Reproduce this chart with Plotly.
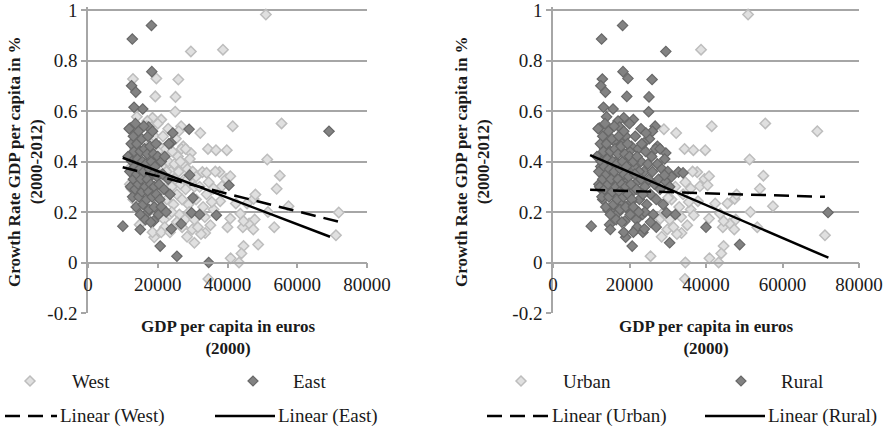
import plotly.graph_objects as go

# ---------------- data (x = GDP per capita 2000 in euros, y = growth rate) ----------------
east_rural = [(12700, 0.885), (18200, 0.939), (18300, 0.756), (12500, 0.70), (13700, 0.675), (13200, 0.615),
              (15700, 0.608), (12100, 0.533), (17400, 0.537), (24300, 0.513), (23800, 0.474), (20700, 0.065),
              (10000, 0.144), (15000, 0.131), (29700, 0.197), (32000, 0.19), (29150, 0.346), (18800, 0.164),
              (17000, 0.197), (23900, 0.133),
              (11500, 0.42), (11800, 0.53), (12000, 0.36), (12200, 0.30), (12400, 0.47), (12600, 0.40),
              (12800, 0.26), (13000, 0.33), (13000, 0.50), (13200, 0.44), (13400, 0.38), (13500, 0.29),
              (13600, 0.55), (13800, 0.22), (14000, 0.35), (14000, 0.47), (14200, 0.41), (14400, 0.31),
              (14500, 0.52), (14600, 0.26), (14800, 0.37), (15000, 0.44), (15000, 0.19), (15200, 0.33),
              (15400, 0.49), (15500, 0.28), (15600, 0.40), (15800, 0.23), (16000, 0.36), (16000, 0.54),
              (16200, 0.45), (16400, 0.30), (16500, 0.17), (16600, 0.39), (16800, 0.25), (17000, 0.43),
              (17000, 0.33), (17200, 0.50), (17400, 0.28), (17500, 0.21), (17600, 0.37), (17800, 0.46),
              (18000, 0.31), (18000, 0.16), (18200, 0.40), (18400, 0.26), (18500, 0.52), (18600, 0.35),
              (18800, 0.43), (19000, 0.22), (19000, 0.30), (19200, 0.38), (19500, 0.47), (19600, 0.27),
              (19800, 0.34), (20000, 0.42), (20200, 0.19), (20400, 0.31), (20600, 0.25), (21000, 0.40),
              (21000, 0.22), (21400, 0.35), (21800, 0.29), (22000, 0.42), (22400, 0.20), (23000, 0.33),
              (23200, 0.47), (23500, 0.27)]

east_urban = [(29000, 0.528), (69100, 0.52), (34600, 0.0), (25500, 0.025), (36800, 0.187), (40400, 0.306),
              (30100, 0.256), (26700, 0.153)]

west_rural = [(19600, 0.729), (12900, 0.727), (25900, 0.725), (29500, 0.836), (19300, 0.658), (25100, 0.656),
              (25000, 0.597), (26700, 0.54), (71900, 0.198), (48800, 0.071), (19000, 0.10), (40000, 0.14),
              (30500, 0.078), (32800, 0.358), (34000, 0.355), (21700, 0.131), (14400, 0.207), (12500, 0.292),
              (18500, 0.573), (21000, 0.566), (14000, 0.577), (27300, 0.46), (29500, 0.434),
              (14500, 0.43), (15500, 0.36), (16000, 0.48), (16500, 0.31), (17000, 0.56), (17500, 0.44),
              (18000, 0.38), (18500, 0.28), (19000, 0.50), (19500, 0.41), (20000, 0.35), (20000, 0.55),
              (20500, 0.46), (20800, 0.28), (21200, 0.38), (21500, 0.50), (21800, 0.17), (22000, 0.32),
              (22300, 0.45), (22600, 0.25), (23000, 0.40), (23000, 0.53), (23400, 0.19), (23800, 0.36),
              (24000, 0.30), (24200, 0.44), (24500, 0.23), (24800, 0.39), (25000, 0.33), (25200, 0.49),
              (25500, 0.27), (25800, 0.42), (26000, 0.36), (26200, 0.19), (26500, 0.31), (26800, 0.45),
              (27000, 0.25), (27300, 0.39), (27600, 0.33), (28000, 0.29), (28000, 0.45), (28500, 0.37),
              (28800, 0.23), (29200, 0.41), (29500, 0.32), (30000, 0.36), (30500, 0.30), (31000, 0.34),
              (24000, 0.20), (22000, 0.14), (18500, 0.12), (16000, 0.20), (14800, 0.15), (19800, 0.21),
              (21000, 0.12), (23500, 0.12), (25500, 0.16), (27000, 0.14), (12000, 0.31), (13000, 0.25),
              (15000, 0.27), (17500, 0.24), (19000, 0.33), (20500, 0.24), (12500, 0.38), (13500, 0.45),
              (16500, 0.40), (18000, 0.47), (20000, 0.44), (22500, 0.36), (26000, 0.52)]

west_urban = [(38700, 0.843), (51000, 0.982), (41500, 0.54), (55500, 0.551), (32200, 0.513), (34400, 0.45),
              (36700, 0.445), (39800, 0.445), (51400, 0.408), (55000, 0.344), (54100, 0.292), (57500, 0.223),
              (71100, 0.108), (53400, 0.14), (44600, 0.065), (44000, 0.036), (43300, 0.0), (40900, 0.017),
              (34500, -0.065), (37700, 0.358), (39600, 0.331), (40800, 0.342), (34600, 0.318), (37900, 0.243),
              (40800, 0.174), (43700, 0.193), (44400, 0.14), (46200, 0.154), (47400, 0.131), (47800, 0.17),
              (47500, 0.252), (48000, 0.269), (33600, 0.117), (32400, 0.113), (28400, 0.102), (29900, 0.131),
              (36000, 0.293), (38400, 0.302), (36000, 0.21), (42400, 0.234), (45600, 0.234), (51600, 0.2),
              (44600, 0.164), (35100, 0.148), (16900, 0.54), (28500, 0.33), (31000, 0.25), (32000, 0.30),
              (27800, 0.17), (30500, 0.17), (31500, 0.14), (33000, 0.22), (34000, 0.27), (35500, 0.24),
              (36500, 0.36), (33500, 0.18), (29000, 0.20), (26500, 0.40)]

# linear trend lines (endpoints)
trend_west_x, trend_west_y = [9950, 72000], [0.377, 0.161]
trend_east_x, trend_east_y = [9950, 69400], [0.415, 0.102]
trend_urban_x, trend_urban_y = [9700, 71100], [0.288, 0.260]
trend_rural_x, trend_rural_y = [9700, 72000], [0.425, 0.019]

y_ticks = [-0.2, 0, 0.2, 0.4, 0.6, 0.8, 1]
y_tick_text = ["-0.2", "0", "0.2", "0.4", "0.6", "0.8", "1"]
x_ticks = [0, 20000, 40000, 60000, 80000]
x_tick_text = ["0", "20000", "40000", "60000", "80000"]


def xs(pts):
    return [p[0] for p in pts]


def ys(pts):
    return [p[1] for p in pts]


# ---------------- styling ----------------
W, H = 890, 432
FONT = "Liberation Serif"
GRID = "#a6a6a6"
TXT = "#1a1a1a"
DASH = "15px,8px"
LW = 2.5
LIGHT = dict(symbol="diamond", size=8, color="#e0e0e0", line=dict(color="#bdbdbd", width=1.5))
DARK = dict(symbol="diamond", size=8, color="#828282", line=dict(color="#686868", width=1.2))

fig = go.Figure()

# left panel: West / East
west = west_rural + west_urban
east = east_rural + east_urban
fig.add_trace(go.Scatter(x=xs(west), y=ys(west), mode="markers", marker=LIGHT, name="West",
                         xaxis="x", yaxis="y", showlegend=False))
fig.add_trace(go.Scatter(x=xs(east), y=ys(east), mode="markers", marker=DARK, name="East",
                         xaxis="x", yaxis="y", showlegend=False))
fig.add_trace(go.Scatter(x=trend_west_x, y=trend_west_y, mode="lines", name="Linear (West)",
                         line=dict(color="black", width=LW, dash=DASH), xaxis="x", yaxis="y",
                         showlegend=False))
fig.add_trace(go.Scatter(x=trend_east_x, y=trend_east_y, mode="lines", name="Linear (East)",
                         line=dict(color="black", width=LW), xaxis="x", yaxis="y", showlegend=False))

# right panel: Urban / Rural
urban = west_urban + east_urban
rural = west_rural + east_rural
fig.add_trace(go.Scatter(x=xs(urban), y=ys(urban), mode="markers", marker=LIGHT, name="Urban",
                         xaxis="x2", yaxis="y2", showlegend=False))
fig.add_trace(go.Scatter(x=xs(rural), y=ys(rural), mode="markers", marker=DARK, name="Rural",
                         xaxis="x2", yaxis="y2", showlegend=False))
fig.add_trace(go.Scatter(x=trend_urban_x, y=trend_urban_y, mode="lines", name="Linear (Urban)",
                         line=dict(color="black", width=LW, dash=DASH), xaxis="x2", yaxis="y2",
                         showlegend=False))
fig.add_trace(go.Scatter(x=trend_rural_x, y=trend_rural_y, mode="lines", name="Linear (Rural)",
                         line=dict(color="black", width=LW), xaxis="x2", yaxis="y2", showlegend=False))

Y_RANGE = [-0.2, 1.012]
ydom = [(H - 313) / H, (H - 7) / H]
y0_pos = ydom[0] + (ydom[1] - ydom[0]) * ((0 - Y_RANGE[0]) / (Y_RANGE[1] - Y_RANGE[0]))
tickfont = dict(family=FONT, size=19, color=TXT)


def xaxis_cfg(dom):
    return dict(domain=dom, range=[0, 80000], tickvals=x_ticks, ticktext=x_tick_text,
                showgrid=False, zeroline=False, showline=True, linecolor=GRID, linewidth=1.5,
                ticks="outside", ticklen=5, tickcolor=GRID, tickwidth=1.5, tickfont=tickfont,
                anchor="free", position=y0_pos, fixedrange=True, automargin=False,
                ticklabeloverflow="allow")


def yaxis_cfg(xname):
    return dict(domain=ydom, range=Y_RANGE, tickvals=y_ticks, ticktext=y_tick_text,
                showgrid=True, gridcolor=GRID, gridwidth=1.5, zeroline=False,
                showline=True, linecolor=GRID, linewidth=1.5, ticks="outside", ticklen=5,
                tickcolor=GRID, tickwidth=1.5, tickfont=tickfont, anchor=xname, fixedrange=True,
                automargin=False, ticklabeloverflow="allow")


xdom1 = [88 / W, 367 / W]
xdom2 = [553 / W, 859 / W]

annotations = []
shapes = []
title_font = dict(family=FONT, size=17, color=TXT, weight="bold")
leg_font = dict(family=FONT, size=19, color=TXT)

for xd, ytx in ((xdom1, 25), (xdom2, 472)):
    annotations.append(dict(text="Growth Rate GDP per capita in %<br>(2000-2012)", textangle=-90,
                            x=ytx / W, y=(H - 162) / H, xref="paper", yref="paper",
                            showarrow=False, font=title_font, xanchor="center", yanchor="middle"))
    annotations.append(dict(text="GDP per capita in euros<br>(2000)", x=(xd[0] + xd[1]) / 2,
                            y=(H - 337) / H, xref="paper", yref="paper", showarrow=False,
                            font=title_font, xanchor="center", yanchor="middle"))

row1 = (H - 381) / H
row2 = (H - 416) / H


def diamond(px, style):
    shapes.append(dict(type="path", xref="paper", yref="paper", xsizemode="pixel", ysizemode="pixel",
                       xanchor=px / W, yanchor=row1, path="M -5 0 L 0 5 L 5 0 L 0 -5 Z",
                       fillcolor=style["color"], line=dict(color=style["line"]["color"],
                                                           width=style["line"]["width"])))


def legline(x0, x1, dash):
    shapes.append(dict(type="line", xref="paper", yref="paper", x0=x0 / W, x1=x1 / W, y0=row2, y1=row2,
                       line=dict(color="black", width=LW, dash=dash)))


def legtext(px, y, text):
    annotations.append(dict(text=text, x=px / W, y=y, xref="paper", yref="paper", showarrow=False,
                            xanchor="left", yanchor="middle", font=leg_font))


legend_items = [
    (30, 70, "West", LIGHT), (253, 291, "East", DARK),
    (521, 561, "Urban", LIGHT), (741, 779, "Rural", DARK),
]
for mx, tx, label, st in legend_items:
    diamond(mx, st)
    legtext(tx, row1, label)

line_items = [
    (5, 57, 58, "Linear (West)", DASH), (215, 275, 276, "Linear (East)", "solid"),
    (487, 548, 550, "Linear (Urban)", DASH), (705, 765, 766, "Linear (Rural)", "solid"),
]
for a, b, tx, label, dash in line_items:
    legline(a, b, dash)
    legtext(tx, row2, label)

fig.update_layout(
    width=W, height=H, margin=dict(l=0, r=0, t=0, b=0, autoexpand=False),
    paper_bgcolor="white", plot_bgcolor="white",
    xaxis=xaxis_cfg(xdom1), yaxis=yaxis_cfg("x"),
    xaxis2=xaxis_cfg(xdom2), yaxis2=yaxis_cfg("x2"),
    annotations=annotations, shapes=shapes, showlegend=False,
    font=dict(family=FONT, color=TXT),
)

fig.write_html("out.html", config={"responsive": False, "displayModeBar": False},
               post_script="document.body.style.margin='0';document.body.style.overflow='hidden';")
